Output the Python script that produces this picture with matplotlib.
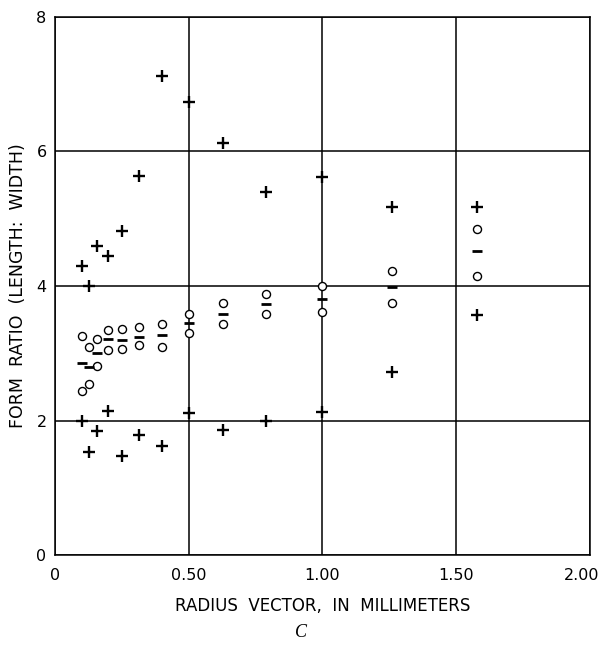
import matplotlib
matplotlib.use("Agg")
import matplotlib.pyplot as plt
import matplotlib.transforms as mtrans

plt.rcParams['font.family'] = ['DejaVu Sans']

# radius vector groups (mm)
radius = [0.10, 0.126, 0.158, 0.20, 0.25, 0.316, 0.40, 0.50, 0.63, 0.79, 1.00, 1.26, 1.58]
# form ratio statistics per group
ratio_max = [4.30, 4.00, 4.60, 4.45, 4.81, 5.63, 7.12, 6.74, 6.13, 5.40, 5.62, 5.18, 5.18]
ratio_min = [2.00, 1.53, 1.85, 2.14, 1.48, 1.78, 1.62, 2.11, 1.86, 2.00, 2.12, 2.72, 3.57]
ratio_q_up = [3.26, 3.09, 3.21, 3.35, 3.36, 3.39, 3.44, 3.59, 3.74, 3.88, 4.00, 4.22, 4.84]
ratio_q_low = [2.44, 2.55, 2.81, 3.05, 3.07, 3.12, 3.10, 3.30, 3.44, 3.58, 3.61, 3.75, 4.15]
ratio_median = [2.86, 2.80, 3.00, 3.21, 3.20, 3.24, 3.27, 3.45, 3.59, 3.73, 3.80, 3.99, 4.52]

x_ticks = [0, 0.5, 1.0, 1.5, 2.0]
x_labels = ['0', '0.50', '1.00', '1.50', '2.00']
y_ticks = [0, 2, 4, 6, 8]

fig = plt.figure(figsize=(6.03, 6.47), dpi=100)
ax = fig.add_axes([0.091, 0.142, 0.887, 0.832])

ax.set_xlim(0, 2.0)
ax.set_ylim(0, 8)
ax.set_xticks(x_ticks)
ax.set_xticklabels(x_labels)
ax.set_yticks(y_ticks)
ax.tick_params(length=0, labelsize=11.5)
ax.tick_params(axis='x', pad=9)
ax.tick_params(axis='y', pad=6)
# last x label sits a bit left so it stays inside the figure
last = ax.get_xticklabels()[-1]
last.set_transform(last.get_transform() + mtrans.ScaledTranslation(-8 / 100, 0, fig.dpi_scale_trans))
for s in ax.spines.values():
    s.set_linewidth(1.1)
    s.set_color('black')
ax.grid(True, color='black', linewidth=1.1)
ax.set_axisbelow(True)

ax.plot(radius, ratio_max, linestyle='none', marker='+', markersize=8,
        markeredgewidth=1.7, color='black', zorder=3)
ax.plot(radius, ratio_min, linestyle='none', marker='+', markersize=8,
        markeredgewidth=1.7, color='black', zorder=3)
ax.plot(radius, ratio_q_up, linestyle='none', marker='o', markersize=5.8,
        markerfacecolor='white', markeredgewidth=1.0, color='black', zorder=3)
ax.plot(radius, ratio_q_low, linestyle='none', marker='o', markersize=5.8,
        markerfacecolor='white', markeredgewidth=1.0, color='black', zorder=3)
ax.plot(radius, ratio_median, linestyle='none', marker='_', markersize=6.5,
        markeredgewidth=2.0, color='black', zorder=3)

ax.set_ylabel('FORM  RATIO  (LENGTH:  WIDTH)', fontsize=12.5, labelpad=7)
ax.set_xlabel('RADIUS  VECTOR,  IN  MILLIMETERS', fontsize=12, labelpad=10)
fig.text(0.5, 0.023, 'C', fontsize=13, style='italic',
         family=['Liberation Serif', 'DejaVu Serif'], ha='center', va='center')

fig.savefig('out.png', dpi=100, facecolor='white')
